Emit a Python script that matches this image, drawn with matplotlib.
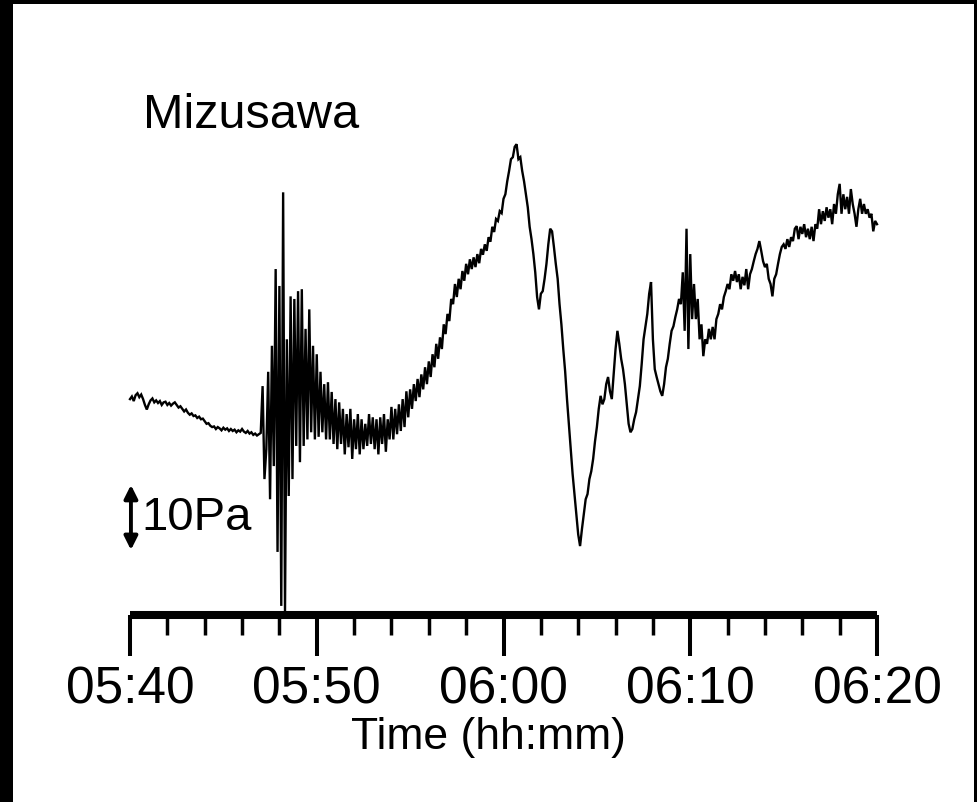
import numpy as np
import matplotlib
matplotlib.use("Agg")
import matplotlib.pyplot as plt
from matplotlib.patches import Rectangle

# ---------------- data ----------------
station = "Mizusawa"
xlabel = "Time (hh:mm)"
tick_minutes = [0, 10, 20, 30, 40]
tick_labels = ["05:40", "05:50", "06:00", "06:10", "06:20"]
minor_minutes = [2, 4, 6, 8, 12, 14, 16, 18, 22, 24, 26, 28, 32, 34, 36, 38]
scale_bar_pa = 10
scale_label = "10Pa"

# minutes after 05:40, sampled every 0.1 min
minutes = np.round(np.arange(0, 401) * 0.1, 1)
# pressure change (Pa)
pressure = [
    0.0, 0.4, -0.3, 0.6, 0.9, 0.3, 0.7, 0.0, -0.9, -1.6,
    -0.8, -0.2, 0.1, -0.5, -0.2, -0.6, -0.3, -0.9, -0.5, -0.4,
    -0.9, -0.6, -1.0, -0.7, -0.5, -0.9, -1.3, -1.1, -1.5, -1.9,
    -1.6, -2.1, -2.4, -2.2, -2.6, -2.5, -2.9, -2.7, -3.1, -3.0,
    -3.4, -3.8, -3.7, -4.1, -4.3, -4.2, -4.6, -4.3, -4.5, -4.8,
    -4.4, -4.7, -4.5, -4.9, -4.6, -4.9, -4.7, -5.1, -4.8, -5.0,
    -4.6, -5.0, -5.2, -4.9, -5.3, -5.1, -5.5, -5.3, -5.6, -5.4,
    -5.2, 2.0, -12.3, -7.7, 4.2, -15.4, 8.2, -10.3, 20.0, -23.5,
    17.4, -31.8, 31.8, -32.6, 9.2, -14.9, 15.8, -12.3, 15.4, -7.2,
    16.6, -9.7, 16.9, -7.2, 10.8, -6.2, 13.8, -5.1, 8.2, -6.2,
    6.9, -5.8, 4.2, -5.1, 2.3, -6.2, 2.6, -6.2, 1.1, -6.9,
    0.0, -7.7, -0.5, -6.9, -1.5, -8.5, -2.3, -7.4, -1.5, -9.2,
    -3.1, -7.7, -2.3, -8.5, -3.1, -7.7, -3.8, -7.2, -2.3, -6.9,
    -2.8, -7.7, -3.1, -8.5, -2.8, -6.9, -2.3, -8.1, -3.1, -6.2,
    -1.2, -6.2, -1.5, -5.4, -0.8, -4.9, 0.0, -4.3, 1.2, -2.8,
    1.5, -1.5, 2.3, -0.3, 3.1, 0.3, 3.8, 1.5, 4.9, 2.3,
    5.8, 3.4, 6.9, 4.9, 8.5, 6.2, 9.5, 7.7, 11.5, 10.0,
    13.1, 12.0, 15.4, 14.6, 17.7, 15.7, 18.5, 16.9, 19.7, 18.2,
    20.8, 19.2, 21.5, 20.0, 21.8, 20.3, 22.3, 20.9, 23.1, 22.2,
    23.8, 22.8, 24.9, 24.2, 26.5, 25.7, 27.7, 27.4, 28.9, 28.6,
    30.8, 31.5, 33.5, 35.1, 36.9, 37.2, 38.8, 39.2, 36.9, 37.2,
    35.1, 33.5, 31.5, 29.5, 26.5, 24.6, 22.3, 19.5, 15.7, 13.8,
    16.2, 16.6, 18.5, 20.8, 23.8, 26.2, 25.8, 23.4, 20.8, 18.5,
    14.6, 11.5, 7.7, 4.3, 0.0, -3.8, -7.7, -11.5, -14.6, -17.7,
    -20.8, -22.6, -20.0, -17.7, -15.4, -14.6, -12.3, -11.1, -9.2, -6.5,
    -4.3, -1.5, 0.5, -0.8, 0.0, 2.3, 3.4, 1.2, 0.0, 3.8,
    7.7, 10.5, 8.5, 6.2, 4.6, 2.3, -0.8, -3.8, -5.1, -4.6,
    -3.1, -2.0, 0.0, 2.0, 5.4, 9.2, 11.2, 13.1, 16.2, 18.0,
    9.2, 4.6, 3.4, 2.3, 1.2, 0.5, 2.3, 4.9, 6.2, 8.5,
    10.5, 11.2, 12.6, 13.8, 15.4, 14.6, 19.5, 10.5, 26.2, 7.7,
    22.3, 12.3, 17.7, 12.3, 15.4, 9.2, 11.5, 6.6, 9.2, 8.5,
    10.8, 9.2, 11.1, 9.2, 12.3, 13.1, 14.6, 13.8, 15.7, 16.6,
    17.7, 16.9, 19.2, 18.2, 19.7, 18.0, 19.2, 16.9, 18.8, 17.5,
    20.0, 16.9, 19.2, 20.0, 21.2, 22.3, 23.1, 24.3, 22.8, 21.2,
    20.3, 20.8, 18.5, 17.7, 15.8, 18.5, 19.2, 20.8, 22.3, 23.4,
    23.8, 23.1, 24.6, 23.4, 24.9, 24.3, 26.2, 26.6, 24.6, 26.5,
    25.4, 26.9, 24.9, 26.2, 24.6, 26.5, 24.3, 26.9, 26.2, 29.2,
    26.9, 28.9, 27.4, 29.5, 27.9, 29.2, 26.9, 30.0, 28.5, 31.5,
    33.1, 28.5, 31.5, 29.2, 31.1, 28.5, 32.3, 30.0, 28.5, 26.5,
    29.2, 30.8, 28.5, 30.0, 28.5, 29.2, 27.9, 28.5, 25.8, 27.4,
    26.9,
]

# ---------------- fonts ----------------
plt.rcParams["font.family"] = ["Liberation Sans", "DejaVu Sans"]

# ---------------- figure ----------------
W, H = 977, 803
fig = plt.figure(figsize=(W / 100, H / 100), dpi=100)
fig.patch.set_facecolor("white")

# black frame on left, top, right
fig.patches.append(Rectangle((0, 0), 13 / W, 1, transform=fig.transFigure,
                             facecolor="black", edgecolor="none", zorder=0))
fig.patches.append(Rectangle((0, 1 - 5 / H), 1, 5 / H, transform=fig.transFigure,
                             facecolor="black", edgecolor="none", zorder=0))
fig.patches.append(Rectangle((974 / W, 0), 3 / W, 1, transform=fig.transFigure,
                             facecolor="black", edgecolor="none", zorder=0))

ax_left, ax_right = 130, 877
ax_bottom_px, ax_top_px = 616, 100
ax = fig.add_axes([ax_left / W, (H - ax_bottom_px) / H,
                   (ax_right - ax_left) / W, (ax_bottom_px - ax_top_px) / H])
ax.set_facecolor("none")

ax.plot(minutes, pressure, color="black", lw=1.7, clip_on=False,
        solid_joinstyle="miter")

ax.set_xlim(0, 40)
ax.set_ylim(-33.2, 46.15)

for s in ["top", "left", "right"]:
    ax.spines[s].set_visible(False)
ax.spines["bottom"].set_linewidth(5.8)
ax.spines["bottom"].set_capstyle("butt")
ax.set_yticks([])

ax.set_xticks(tick_minutes)
ax.set_xticklabels(tick_labels)
ax.set_xticks(minor_minutes, minor=True)
ax.tick_params(axis="x", which="major", direction="out", length=29.5, width=2.9,
               pad=6, labelsize=37, colors="black")
ax.tick_params(axis="x", which="minor", direction="out", length=14.4, width=2.5)

# station label
ax.text(0.7, 41.8, station, fontsize=35, ha="left", va="baseline")

# scale bar
ax.annotate("", xy=(0.05, -23.2), xytext=(0.05, -13.2),
            arrowprops=dict(arrowstyle="<|-|>,head_length=0.8,head_width=0.4",
                            lw=2.8, color="black", shrinkA=0, shrinkB=0),
            annotation_clip=False)
ax.text(0.6, -18.2, scale_label, fontsize=34, ha="left", va="center")

# x label
fig.text(488 / W, 1 - 738 / H, xlabel, fontsize=32, ha="center", va="center")

fig.savefig("out.png", dpi=100)
